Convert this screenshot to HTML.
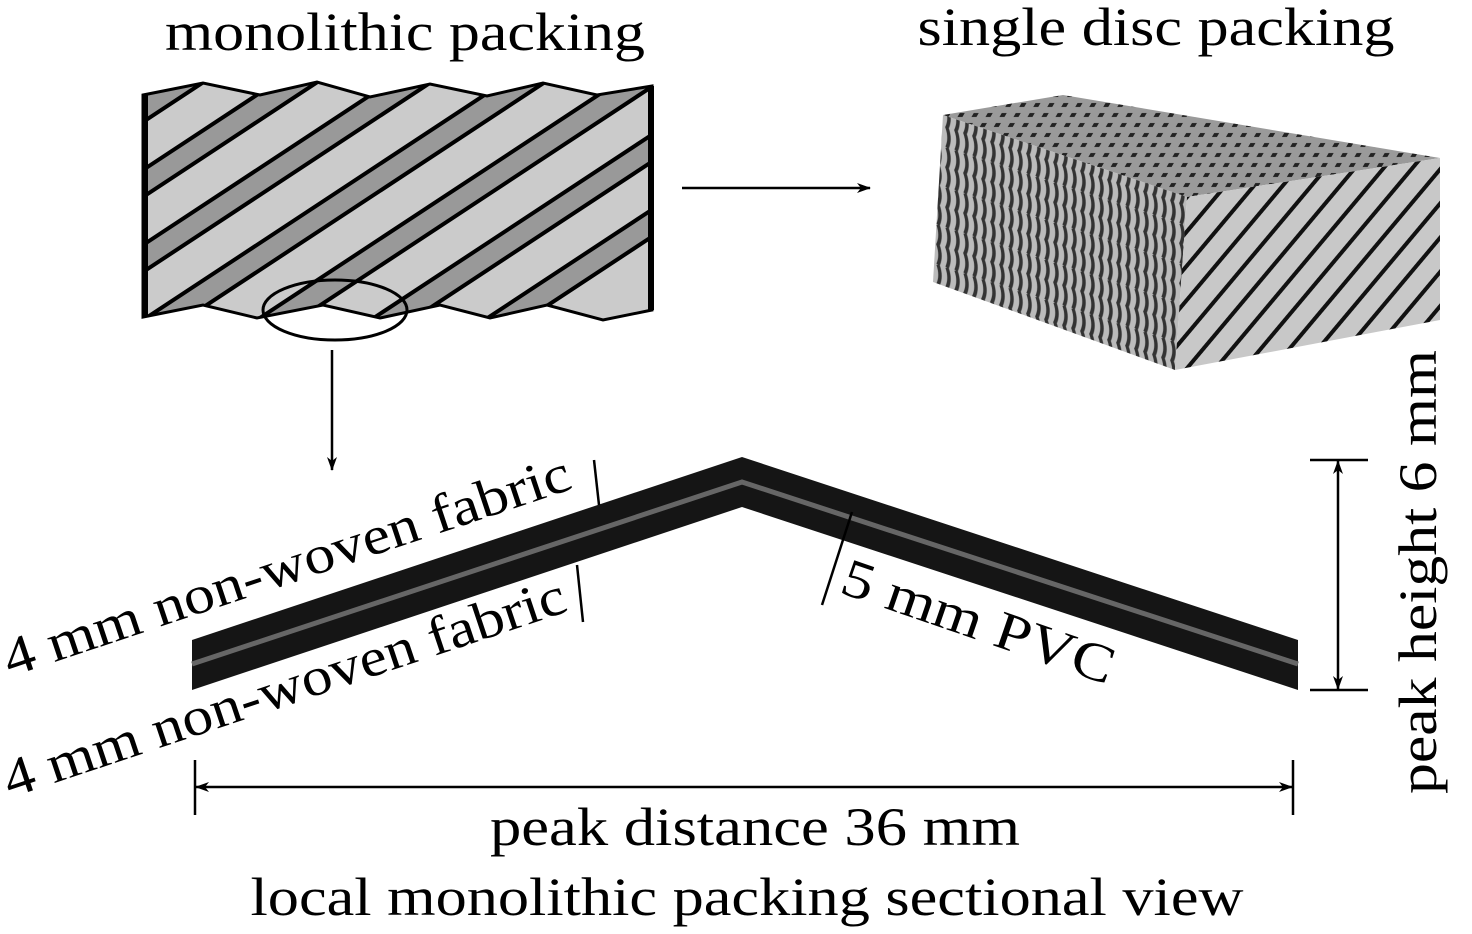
<!DOCTYPE html>
<html><head><meta charset="utf-8"><style>body{margin:0;background:#fff}svg{display:block}</style></head>
<body>
<svg width="1472" height="934" viewBox="0 0 1472 934" xmlns="http://www.w3.org/2000/svg" font-family="Liberation Serif, serif">
<defs>
<clipPath id="mono"><polygon points="143,95 203,83 260,95 317,82 370,97 430,84 487,96 543,83 597,95 652,86 652,310 603,320 547,305 490,318 440,305 380,318 323,305 257,318 203,305 143,317"/></clipPath>
<pattern id="dots" width="14" height="10" patternUnits="userSpaceOnUse" patternTransform="skewX(-30)">
<rect width="14" height="10" fill="#9a9a9a"/><rect x="3" y="3" width="5" height="4" fill="#222"/></pattern>
<pattern id="waves" width="9" height="40" patternUnits="userSpaceOnUse" patternTransform="skewY(18)">
<rect width="9" height="40" fill="#bbb"/><path d="M2 0 Q6 10 2 20 Q6 30 2 40" stroke="#333" stroke-width="3.5" fill="none"/></pattern>
<pattern id="diag" width="22" height="22" patternUnits="userSpaceOnUse" patternTransform="rotate(40)">
<rect width="22" height="22" fill="#c8c8c8"/><rect width="4" height="22" fill="#111"/></pattern>
<marker id="ah" markerWidth="14" markerHeight="10" refX="13" refY="5" orient="auto" markerUnits="userSpaceOnUse"><path d="M0,0 L14,5 L0,10 L4,5Z" fill="#000"/></marker>
</defs>
<text x="405" y="50" font-size="54" text-anchor="middle" textLength="480" lengthAdjust="spacingAndGlyphs">monolithic packing</text>
<text x="1156" y="45" font-size="54" text-anchor="middle" textLength="477" lengthAdjust="spacingAndGlyphs">single disc packing</text>
<g clip-path="url(#mono)">
<rect x="140" y="70" width="520" height="260" fill="#cbcbcb"/>
<g stroke="#000" stroke-width="4" fill="#999">
<g id="band"><polygon points="143,95 700,-272 700,-245 143,122"/></g>
<use href="#band" y="75"/><use href="#band" y="150"/><use href="#band" y="225"/><use href="#band" y="300"/><use href="#band" y="375"/><use href="#band" y="450"/>
</g>
</g>
<polygon points="143,95 203,83 260,95 317,82 370,97 430,84 487,96 543,83 597,95 652,86 652,310 603,320 547,305 490,318 440,305 380,318 323,305 257,318 203,305 143,317" fill="none" stroke="#000" stroke-width="3"/>
<line x1="145" y1="95" x2="145" y2="317" stroke="#000" stroke-width="6"/>
<line x1="651" y1="86" x2="651" y2="310" stroke="#000" stroke-width="6"/>
<ellipse cx="335" cy="310" rx="72" ry="30" fill="none" stroke="#000" stroke-width="3"/>
<line x1="682" y1="188" x2="870" y2="188" stroke="#000" stroke-width="2.5" marker-end="url(#ah)"/>
<line x1="332" y1="350" x2="332" y2="470" stroke="#000" stroke-width="2.5" marker-end="url(#ah)"/>
<polygon points="943,115 1063,95 1440,158 1187,197" fill="url(#dots)"/>
<polygon points="943,115 1187,197 1175,370 933,282" fill="url(#waves)"/>
<polygon points="1187,197 1440,158 1440,320 1175,370" fill="url(#diag)"/>
<polygon points="192,640 742,457 1298,640 1298,690 742,507 192,690" fill="#151515"/>
<polyline points="192,664 742,482 1298,664" fill="none" stroke="#666" stroke-width="5"/>
<line x1="594" y1="460" x2="599" y2="505" stroke="#000" stroke-width="2.5"/>
<line x1="577" y1="565" x2="583" y2="622" stroke="#000" stroke-width="2.5"/>
<line x1="852" y1="512" x2="822" y2="605" stroke="#000" stroke-width="2.5"/>
<text transform="translate(10,677) rotate(-18.5)" font-size="54" textLength="595" lengthAdjust="spacingAndGlyphs">4 mm non-woven fabric</text>
<text transform="translate(10,798) rotate(-18.5)" font-size="54" textLength="590" lengthAdjust="spacingAndGlyphs">4 mm non-woven fabric</text>
<text transform="translate(838,592) rotate(19)" font-size="54" textLength="285" lengthAdjust="spacingAndGlyphs">5 mm PVC</text>
<line x1="1310" y1="460" x2="1368" y2="460" stroke="#000" stroke-width="2.5"/>
<line x1="1310" y1="690" x2="1368" y2="690" stroke="#000" stroke-width="2.5"/>
<line x1="1338" y1="575" x2="1338" y2="461" stroke="#000" stroke-width="2.5" marker-end="url(#ah)"/>
<line x1="1338" y1="575" x2="1338" y2="689" stroke="#000" stroke-width="2.5" marker-end="url(#ah)"/>
<text transform="translate(1436,572) rotate(-90)" font-size="54" text-anchor="middle" textLength="444" lengthAdjust="spacingAndGlyphs">peak height 6 mm</text>
<line x1="195" y1="760" x2="195" y2="815" stroke="#000" stroke-width="2.5"/>
<line x1="1293" y1="760" x2="1293" y2="815" stroke="#000" stroke-width="2.5"/>
<line x1="744" y1="787" x2="196" y2="787" stroke="#000" stroke-width="2.5" marker-end="url(#ah)"/>
<line x1="744" y1="787" x2="1292" y2="787" stroke="#000" stroke-width="2.5" marker-end="url(#ah)"/>
<text x="755" y="845" font-size="54" text-anchor="middle" textLength="530" lengthAdjust="spacingAndGlyphs">peak distance 36 mm</text>
<text x="747" y="915" font-size="54" text-anchor="middle" textLength="993" lengthAdjust="spacingAndGlyphs">local monolithic packing sectional view</text>
</svg>
</body></html>
